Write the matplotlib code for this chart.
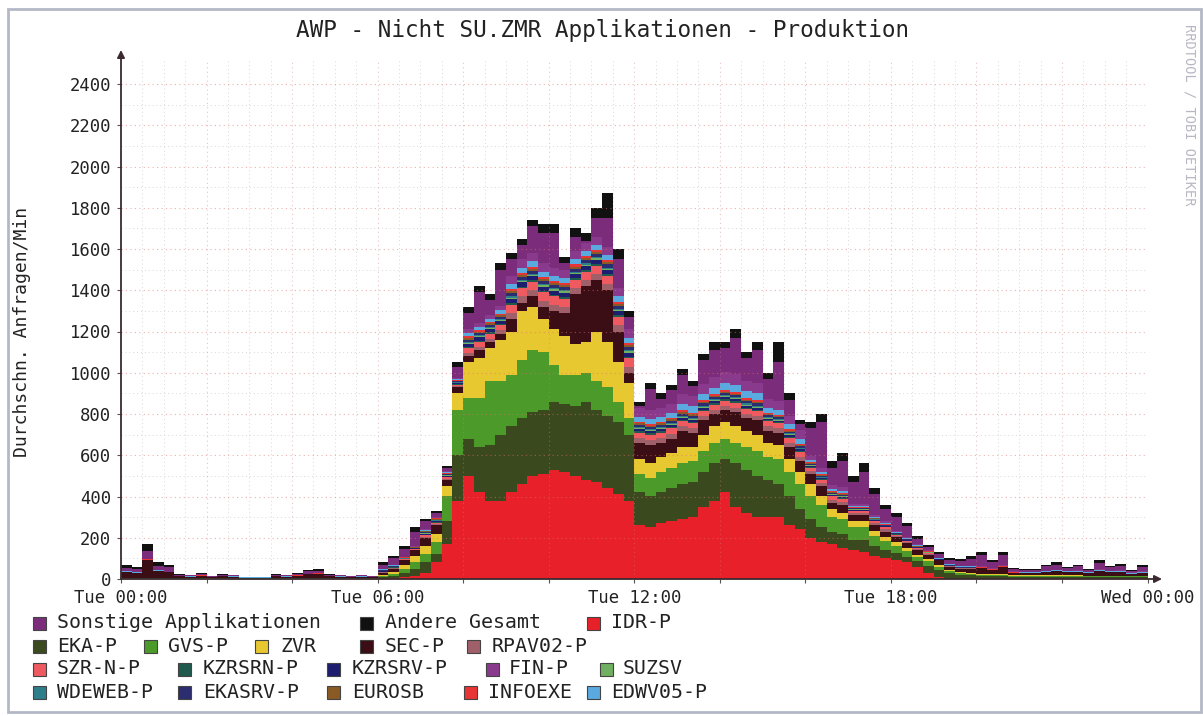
import numpy as np
import matplotlib
matplotlib.use("Agg")
import matplotlib.pyplot as plt
from matplotlib.patches import Rectangle

# ---------------- data (15-minute bins, Tue 00:00 .. Wed 00:00) ----------------
IDR_P = [
    0, 0, 0, 0, 0, 0, 0, 0, 0, 0, 0, 0, 0, 0, 0, 0, 0, 0, 0, 0, 0, 0, 0, 0,
    0, 5, 10, 15, 30, 80, 170, 380, 500, 420, 380, 380, 420, 460, 500, 510, 530, 520, 500, 480, 470, 440, 410, 380,
    260, 250, 270, 280, 290, 300, 350, 380, 420, 350, 320, 300, 300, 300, 260, 240, 200, 180, 170, 150, 140, 130, 110, 100,
    90, 80, 60, 30, 10, 0, 0, 0, 0, 0, 0, 0, 0, 0, 0, 0, 0, 0, 0, 0, 0, 0, 0, 0]
EKA_P = [
    2, 2, 2, 2, 2, 2, 2, 2, 2, 2, 2, 2, 2, 2, 2, 2, 2, 2, 2, 2, 2, 2, 2, 2,
    10, 10, 20, 35, 50, 40, 110, 220, 180, 220, 270, 320, 320, 320, 310, 310, 330, 330, 340, 380, 350, 350, 350, 320,
    160, 150, 150, 160, 170, 170, 170, 180, 160, 210, 210, 200, 180, 160, 140, 100, 90, 70, 60, 70, 50, 60, 50, 40,
    35, 25, 25, 35, 35, 30, 20, 18, 15, 15, 15, 12, 12, 12, 12, 12, 12, 12, 10, 10, 10, 10, 10, 10]
GVS_P = [
    1, 1, 1, 1, 1, 1, 1, 1, 1, 1, 1, 1, 1, 1, 1, 1, 1, 1, 1, 1, 1, 1, 1, 1,
    5, 10, 20, 30, 40, 60, 120, 220, 200, 240, 310, 260, 250, 280, 300, 280, 180, 140, 150, 140, 140, 140, 100, 80,
    90, 90, 100, 100, 100, 100, 100, 100, 100, 100, 110, 120, 110, 120, 120, 120, 110, 110, 70, 70, 60, 60, 50, 45,
    35, 30, 20, 20, 15, 10, 8, 7, 5, 5, 5, 4, 3, 3, 3, 3, 3, 3, 3, 3, 3, 3, 3, 3]
ZVR = [
    1, 1, 1, 1, 1, 1, 1, 1, 1, 1, 1, 1, 1, 1, 1, 1, 1, 1, 1, 1, 1, 1, 1, 1,
    5, 10, 20, 30, 40, 40, 50, 80, 170, 190, 160, 200, 210, 240, 210, 160, 170, 190, 150, 150, 240, 220, 190, 170,
    70, 70, 70, 70, 80, 70, 80, 80, 80, 80, 80, 80, 70, 70, 60, 60, 60, 40, 40, 30, 30, 30, 25, 20,
    20, 15, 13, 10, 10, 6, 4, 3, 2, 2, 2, 2, 2, 2, 2, 2, 2, 2, 2, 2, 2, 2, 2, 2]
SEC_P = [
    30, 25, 90, 35, 30, 9, 7, 12, 4, 9, 7, 2, 2, 2, 9, 7, 12, 20, 22, 9, 7, 4, 7, 4,
    10, 15, 20, 30, 40, 40, 30, 30, 30, 40, 30, 30, 60, 40, 50, 60, 90, 110, 240, 270, 250, 250, 150, 50,
    80, 90, 70, 70, 80, 70, 70, 60, 60, 70, 60, 70, 60, 60, 60, 50, 50, 50, 30, 40, 30, 30, 25, 25,
    25, 25, 22, 20, 20, 14, 18, 22, 33, 23, 38, 12, 11, 11, 18, 23, 15, 18, 13, 25, 17, 20, 10, 15]
SONSTIGE = [
    17, 15, 40, 22, 20, 5, 4, 7, 3, 5, 4, 1, 1, 1, 5, 4, 7, 11, 12, 5, 4, 3, 4, 3,
    21, 31, 36, 71, 37, 17, 17, 57, 78, 148, 73, 178, 80, 70, 130, 150, 170, 30, 70, 10, 90, 140, 140, 60,
    13, 103, 48, 68, 93, 48, 113, 133, 118, 178, 108, 158, 99, 189, 79, 29, 133, 223, 83, 123, 108, 158, 98, 58,
    67, 52, 27, 12, 16, 16, 21, 34, 53, 28, 48, 12, 11, 11, 21, 24, 14, 19, 9, 30, 17, 22, 7, 22]
ANDERE = [
    15, 12, 32, 15, 14, 5, 3, 5, 2, 5, 3, 1, 1, 1, 5, 3, 5, 8, 10, 5, 3, 2, 3, 2,
    10, 10, 15, 20, 10, 10, 10, 20, 30, 30, 25, 30, 30, 30, 30, 40, 40, 30, 40, 40, 50, 120, 50, 30,
    20, 30, 25, 25, 30, 25, 30, 40, 30, 40, 30, 40, 30, 100, 30, 20, 30, 40, 30, 40, 30, 40, 30, 20,
    20, 15, 15, 10, 10, 10, 10, 12, 15, 10, 15, 6, 5, 5, 8, 10, 6, 8, 5, 12, 8, 10, 5, 10]

# small series, hourly values (00..23 h)
RPAV02_P = [0, 0, 0, 0, 0, 0, 2, 5, 15, 30, 30, 30, 25, 20, 20, 20, 15, 10, 5, 2, 0, 0, 0, 0]
SZR_N_P = [0, 0, 0, 0, 0, 0, 3, 8, 25, 40, 40, 40, 25, 25, 25, 25, 15, 10, 5, 2, 0, 0, 0, 0]
KZRSRN_P = [0, 0, 0, 0, 0, 0, 1, 2, 6, 8, 8, 8, 6, 6, 6, 5, 3, 2, 1, 0, 0, 0, 0, 0]
KZRSRV_P = [0, 0, 0, 0, 0, 0, 2, 5, 15, 20, 20, 20, 10, 10, 10, 8, 5, 3, 2, 1, 0, 0, 0, 0]
SUZSV = [0, 0, 0, 0, 0, 0, 1, 2, 5, 6, 6, 6, 5, 5, 5, 4, 3, 2, 1, 0, 0, 0, 0, 0]
WDEWEB_P = [0, 0, 0, 0, 0, 0, 1, 2, 5, 6, 6, 6, 5, 5, 5, 4, 3, 2, 1, 0, 0, 0, 0, 0]
EKASRV_P = [0, 0, 0, 0, 0, 0, 2, 4, 10, 15, 15, 15, 10, 10, 10, 8, 5, 3, 2, 1, 0, 0, 0, 0]
EUROSB = [0, 0, 0, 0, 0, 0, 1, 3, 8, 10, 10, 10, 8, 8, 8, 6, 4, 2, 1, 0, 0, 0, 0, 0]
INFOEXE = [2, 1, 1, 1, 1, 1, 2, 3, 8, 10, 10, 10, 8, 8, 8, 6, 4, 3, 2, 2, 2, 1, 1, 1]
EDWV05_P = [2, 1, 1, 1, 1, 1, 2, 4, 15, 25, 25, 25, 25, 30, 35, 25, 10, 5, 3, 3, 3, 3, 5, 5]
FIN_P = [0, 0, 0, 0, 0, 0, 2, 5, 20, 40, 40, 40, 40, 50, 50, 40, 20, 10, 5, 3, 2, 2, 2, 2]

X_TICK_LABELS = ["Tue 00:00", "Tue 06:00", "Tue 12:00", "Tue 18:00", "Wed 00:00"]
Y_TICKS = [0, 200, 400, 600, 800, 1000, 1200, 1400, 1600, 1800, 2000, 2200, 2400]

# ---------------- styling ----------------
COL = {
    "Sonstige Applikationen": "#7B2D7B", "Andere Gesamt": "#111111", "IDR-P": "#E8202A",
    "EKA-P": "#3B4A1E", "GVS-P": "#4C9A2A", "ZVR": "#E8C830", "SEC-P": "#3A0E14",
    "RPAV02-P": "#A0606A", "SZR-N-P": "#EE5A60", "KZRSRN-P": "#1F5A4C",
    "KZRSRV-P": "#1E1E70", "FIN-P": "#8A3A8C", "SUZSV": "#70B060",
    "WDEWEB-P": "#2E7E8A", "EKASRV-P": "#2C2C70", "EUROSB": "#8A5A24",
    "INFOEXE": "#E83434", "EDWV05-P": "#5AAAE0",
}

W, H = 1203, 716
fig = plt.figure(figsize=(W / 100, H / 100), dpi=100)
fig.patch.set_facecolor("white")
MONO = "DejaVu Sans Mono"

def fx(px):
    return px / W

def fy(py):
    return 1 - py / H

x0_px, x1_px, y0_px = 121, 1147.5, 579
ppu = 495 / 2400.0
ytop = 2520
ax = fig.add_axes([fx(x0_px), fy(y0_px), (x1_px - x0_px) / W, ytop * ppu / H])
ax.set_xlim(0, 24)
ax.set_ylim(0, ytop)
ax.set_facecolor("white")
for s in ax.spines.values():
    s.set_visible(False)

# minor grid (under data)
for v in range(100, 2500, 200):
    ax.axhline(v, color="#D8D8D8", lw=0.7, ls=(0, (1, 3)), zorder=0)
for h in np.arange(0.5, 24, 0.5):
    if h % 2 != 0:
        ax.axvline(h, color="#D8D8D8", lw=0.7, ls=(0, (1, 3)), zorder=0)

# stacked layers
hourly = lambda a: np.repeat(np.asarray(a, float), 4)
layers = [
    ("IDR-P", np.asarray(IDR_P, float)),
    ("EKA-P", np.asarray(EKA_P, float)),
    ("GVS-P", np.asarray(GVS_P, float)),
    ("ZVR", np.asarray(ZVR, float)),
    ("SEC-P", np.asarray(SEC_P, float)),
    ("RPAV02-P", hourly(RPAV02_P)),
    ("SZR-N-P", hourly(SZR_N_P)),
    ("KZRSRN-P", hourly(KZRSRN_P)),
    ("KZRSRV-P", hourly(KZRSRV_P)),
    ("SUZSV", hourly(SUZSV)),
    ("WDEWEB-P", hourly(WDEWEB_P)),
    ("EKASRV-P", hourly(EKASRV_P)),
    ("EUROSB", hourly(EUROSB)),
    ("INFOEXE", hourly(INFOEXE)),
    ("EDWV05-P", hourly(EDWV05_P)),
    ("FIN-P", hourly(FIN_P)),
    ("Sonstige Applikationen", np.asarray(SONSTIGE, float)),
    ("Andere Gesamt", np.asarray(ANDERE, float)),
]
n = len(IDR_P)
t = np.arange(n + 1) * (24.0 / n)
base = np.zeros(n)
for name, vals in layers:
    top = base + vals
    ax.fill_between(t, np.append(base, base[-1]), np.append(top, top[-1]),
                    step="post", color=COL[name], lw=0, zorder=2)
    base = top

# major grid (over data, faint)
for v in Y_TICKS[1:]:
    ax.axhline(v, color="#E07070", lw=0.8, ls=(0, (1, 3)), alpha=0.55, zorder=3)
for h in range(2, 24, 2):
    ax.axvline(h, color="#D08080", lw=0.8, ls=(0, (1, 3)), alpha=0.45, zorder=3)

# axes arrows
arrow_col = "#3A2A30"
ax.annotate("", xy=(0, (579 - 50) / ppu), xytext=(0, 0), xycoords="data",
            arrowprops=dict(arrowstyle="-|>", color=arrow_col, lw=1.3, mutation_scale=11,
                            shrinkA=0, shrinkB=0), annotation_clip=False, zorder=5)
ax.annotate("", xy=((1162 - x0_px) / 42.77, 0), xytext=(0, 0), xycoords="data",
            arrowprops=dict(arrowstyle="-|>", color=arrow_col, lw=1.3, mutation_scale=11,
                            shrinkA=0, shrinkB=0), annotation_clip=False, zorder=5)

# ticks
ax.set_yticks(Y_TICKS)
ax.set_yticklabels([str(v) for v in Y_TICKS], fontfamily=MONO, fontsize=12.4, color="#222222")
ax.set_xticks(range(0, 25, 2))
ax.set_xticklabels([X_TICK_LABELS[i // 6] if i % 6 == 0 else "" for i in range(0, 25, 2)],
                   fontfamily=MONO, fontsize=12.4, color="#222222")
ax.tick_params(axis="both", length=3, width=0.8, color="#555555", pad=4)

# texts
fig.text(fx(603), fy(31), "AWP - Nicht SU.ZMR Applikationen - Produktion",
         ha="center", va="center", fontfamily=MONO, fontsize=16.3, color="#222222")
fig.text(fx(22), fy(332), "Durchschn. Anfragen/Min", rotation=90, ha="center", va="center",
         fontfamily=MONO, fontsize=13, color="#222222")
fig.text(fx(1190), fy(115), "RRDTOOL / TOBI OETIKER", rotation=270, ha="center", va="center",
         fontfamily=MONO, fontsize=9.8, color="#B8B8C4")

# legend
legend_items = [
    (623, [(33, 57, "Sonstige Applikationen"), (360, 385, "Andere Gesamt"), (587, 611, "IDR-P")]),
    (646, [(33, 57, "EKA-P"), (144, 168, "GVS-P"), (255, 280, "ZVR"), (360, 385, "SEC-P"),
           (467, 492, "RPAV02-P")]),
    (669, [(33, 57, "SZR-N-P"), (178, 203, "KZRSRN-P"), (327, 352, "KZRSRV-P"),
           (486, 509, "FIN-P"), (600, 623, "SUZSV")]),
    (692, [(33, 57, "WDEWEB-P"), (178, 203, "EKASRV-P"), (327, 352, "EUROSB"),
           (464, 488, "INFOEXE"), (587, 611, "EDWV05-P")]),
]
box = 13
for ry, items in legend_items:
    for mx, tx, label in items:
        fig.patches.append(Rectangle((fx(mx), fy(ry + box / 2)), box / W, box / H,
                                     transform=fig.transFigure, facecolor=COL[label],
                                     edgecolor="#444444", lw=0.8))
        fig.text(fx(tx), fy(ry), label, ha="left", va="center", fontfamily=MONO,
                 fontsize=14.3, color="#222222")

# outer frame
fig.patches.append(Rectangle((fx(8), fy(712)), (1201 - 8) / W, (712 - 9) / H,
                             transform=fig.transFigure, facecolor="none",
                             edgecolor="#B4B8C6", lw=2))

fig.savefig("out.png", dpi=100, facecolor="white")
